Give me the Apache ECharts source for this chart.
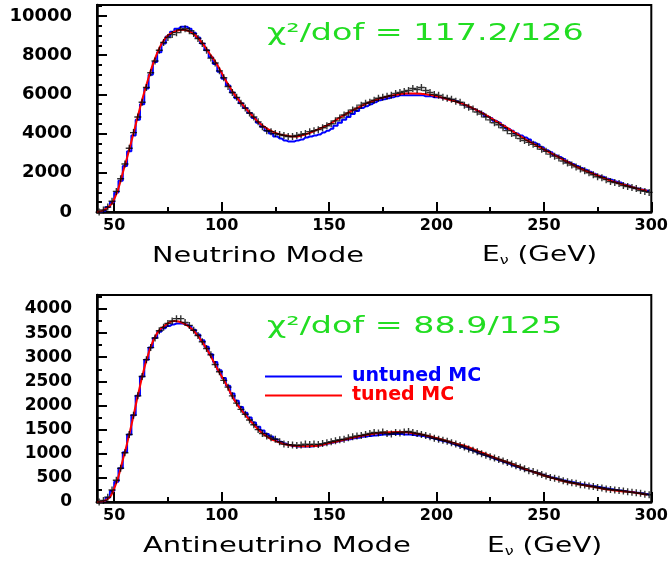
<!DOCTYPE html>
<html>
<head>
<meta charset="utf-8">
<script src="https://cdn.jsdelivr.net/npm/echarts@6/dist/echarts.min.js"></script>
<style>
  html, body { margin: 0; padding: 0; background: #fff; }
  #main { width: 671px; height: 569px; }
</style>
</head>
<body>
<div id="main"></div>
<script>
// 2 GeV bin centres for data points and untuned MC histogram
var binCentre = [43, 45, 47, 49, 51, 53, 55, 57, 59, 61,
  63, 65, 67, 69, 71, 73, 75, 77, 79, 81,
  83, 85, 87, 89, 91, 93, 95, 97, 99, 101,
  103, 105, 107, 109, 111, 113, 115, 117, 119, 121,
  123, 125, 127, 129, 131, 133, 135, 137, 139, 141,
  143, 145, 147, 149, 151, 153, 155, 157, 159, 161,
  163, 165, 167, 169, 171, 173, 175, 177, 179, 181,
  183, 185, 187, 189, 191, 193, 195, 197, 199, 201,
  203, 205, 207, 209, 211, 213, 215, 217, 219, 221,
  223, 225, 227, 229, 231, 233, 235, 237, 239, 241,
  243, 245, 247, 249, 251, 253, 255, 257, 259, 261,
  263, 265, 267, 269, 271, 273, 275, 277, 279, 281,
  283, 285, 287, 289, 291, 293, 295, 297, 299];

// nodes of the tuned MC curve
var curveE = [42, 46, 50, 54, 58, 62, 66, 70, 74, 78, 82, 86, 90, 94, 98, 102, 106, 110, 114, 118,
  122, 126, 130, 134, 138, 142, 146, 150, 154, 158, 162, 166, 170, 174, 178, 182, 186, 190, 194, 198,
  202, 206, 210, 214, 218, 222, 226, 230, 234, 238, 242, 246, 250, 254, 258, 262, 266, 270, 274, 278,
  282, 286, 290, 294, 298];

// neutrino mode
var nuData = [0, 100, 250, 550, 1050, 1700, 2450, 3250, 4050, 4850,
  5600, 6350, 7100, 7700, 8250, 8650, 8900, 9050, 9150, 9300,
  9350, 9250, 9100, 8850, 8600, 8250, 7850, 7600, 7200, 6850,
  6400, 6100, 5850, 5550, 5300, 5050, 4850, 4600, 4350, 4150,
  4100, 4000, 3950, 3900, 3850, 3850, 3900, 3950, 4000, 4100,
  4150, 4200, 4300, 4400, 4500, 4650, 4800, 4950, 5050, 5200,
  5300, 5450, 5550, 5600, 5700, 5800, 5850, 5900, 5950, 6050,
  6100, 6150, 6200, 6300, 6250, 6350, 6200, 6100, 6000, 5950,
  5850, 5800, 5750, 5650, 5600, 5450, 5350, 5250, 5100, 5000,
  4850, 4700, 4550, 4450, 4300, 4150, 4000, 3900, 3750, 3650,
  3550, 3450, 3350, 3200, 3100, 2950, 2850, 2750, 2600, 2500,
  2400, 2300, 2200, 2100, 2000, 1900, 1800, 1750, 1650, 1550,
  1500, 1450, 1350, 1300, 1250, 1200, 1100, 1050, 1000];
var nuUntuned = [0, 60, 250, 500, 1000, 1600, 2350, 3100, 3900, 4700,
  5500, 6300, 7000, 7650, 8150, 8600, 8950, 9200, 9350, 9450,
  9450, 9350, 9150, 8900, 8600, 8250, 7900, 7550, 7150, 6800,
  6450, 6100, 5800, 5550, 5300, 5050, 4800, 4550, 4350, 4150,
  4000, 3850, 3750, 3650, 3600, 3600, 3650, 3700, 3800, 3850,
  3900, 3950, 4050, 4150, 4250, 4400, 4550, 4700, 4850, 5000,
  5150, 5300, 5400, 5500, 5600, 5700, 5750, 5800, 5850, 5900,
  5950, 5950, 5950, 5950, 5950, 5950, 5900, 5900, 5850, 5850,
  5800, 5750, 5700, 5650, 5550, 5450, 5350, 5250, 5150, 5050,
  4900, 4800, 4650, 4550, 4400, 4250, 4150, 4000, 3900, 3800,
  3700, 3550, 3450, 3300, 3150, 3050, 2900, 2800, 2700, 2550,
  2450, 2350, 2250, 2150, 2050, 1950, 1850, 1800, 1700, 1650,
  1550, 1500, 1400, 1350, 1250, 1200, 1150, 1100, 1050];
var nuTuned = [0, 150, 650, 2000, 3600, 5300, 6850, 8100, 8900, 9200, 9300, 9150, 8750, 8150, 7500, 6700, 6000, 5450, 4950, 4500,
  4200, 4000, 3900, 3850, 3930, 4080, 4270, 4470, 4750, 5000, 5250, 5460, 5650, 5800, 5920, 6000, 6040, 6050, 6020, 5960,
  5850, 5730, 5600, 5440, 5230, 5000, 4750, 4480, 4220, 3950, 3670, 3430, 3200, 2960, 2720, 2500, 2270, 2080, 1900, 1730,
  1560, 1430, 1300, 1180, 1080];

// antineutrino mode
var nubarData = [0, 30, 100, 250, 450, 700, 1020, 1400, 1800, 2200,
  2600, 2950, 3200, 3400, 3550, 3620, 3700, 3750, 3800, 3800,
  3720, 3660, 3560, 3450, 3320, 3180, 3050, 2850, 2700, 2520,
  2380, 2200, 2050, 1920, 1820, 1700, 1600, 1500, 1420, 1370,
  1330, 1300, 1250, 1200, 1190, 1180, 1170, 1180, 1200, 1190,
  1200, 1190, 1210, 1230, 1250, 1270, 1290, 1300, 1330, 1350,
  1370, 1380, 1400, 1420, 1440, 1430, 1450, 1420, 1410, 1440,
  1430, 1450, 1460, 1440, 1420, 1400, 1380, 1350, 1320, 1300,
  1280, 1260, 1230, 1200, 1170, 1140, 1100, 1070, 1040, 1000,
  970, 940, 910, 880, 850, 820, 790, 750, 720, 690,
  650, 630, 600, 570, 540, 510, 490, 470, 440, 420,
  400, 390, 360, 350, 330, 320, 300, 290, 270, 260,
  250, 240, 230, 210, 200, 190, 180, 160, 150];
var nubarUntuned = [0, 20, 90, 230, 420, 700, 1030, 1400, 1800, 2200,
  2600, 2950, 3200, 3400, 3530, 3600, 3650, 3680, 3700, 3700,
  3680, 3640, 3570, 3470, 3350, 3220, 3060, 2900, 2730, 2570,
  2410, 2250, 2100, 1970, 1850, 1750, 1650, 1560, 1480, 1410,
  1360, 1300, 1250, 1210, 1180, 1160, 1150, 1150, 1150, 1150,
  1160, 1170, 1190, 1210, 1230, 1250, 1270, 1290, 1300, 1320,
  1330, 1350, 1360, 1370, 1380, 1390, 1400, 1400, 1410, 1410,
  1410, 1400, 1400, 1390, 1380, 1370, 1350, 1330, 1310, 1280,
  1260, 1240, 1210, 1180, 1150, 1120, 1090, 1060, 1020, 990,
  960, 930, 890, 860, 830, 800, 760, 730, 700, 670,
  650, 620, 595, 565, 540, 510, 490, 465, 445, 425,
  410, 390, 370, 355, 340, 325, 310, 295, 280, 265,
  250, 240, 228, 215, 205, 190, 180, 165, 150];
var nubarTuned = [0, 35, 280, 870, 1590, 2400, 3080, 3500, 3670, 3750, 3710, 3590, 3380, 3100, 2760, 2450, 2110, 1860, 1650, 1460,
  1330, 1250, 1190, 1165, 1155, 1160, 1175, 1220, 1260, 1300, 1340, 1380, 1410, 1430, 1445, 1450, 1445, 1420, 1390, 1350,
  1300, 1250, 1200, 1150, 1080, 1010, 940, 870, 810, 740, 670, 610, 550, 495, 445, 405, 370, 335, 305, 270,
  245, 225, 205, 180, 150];

var majorTicks = [50, 100, 150, 200, 250, 300];
var minorTicks = [75, 125, 175, 225, 275];

function pairs(xs, vals) {
  return xs.map(function (e, i) { return [e, vals[i]]; });
}

var FONT = 'DejaVu Sans';
var plus = 'path://M4,0H6V4H10V6H6V10H4V6H0V4H4Z';
var GREEN = '#22dd22';

function xAxes(gridIndex, labelMargin) {
  return [{
    type: 'value', gridIndex: gridIndex, min: 42, max: 300,
    axisLine: { lineStyle: { color: '#000', width: 2.5 } },
    axisTick: { inside: true, length: 10, customValues: majorTicks, lineStyle: { color: '#000', width: 2 } },
    axisLabel: { customValues: majorTicks, margin: labelMargin, color: '#000', fontFamily: FONT, fontWeight: 'bold', fontSize: 16 },
    splitLine: { show: false }
  }, {
    type: 'value', gridIndex: gridIndex, min: 42, max: 300, position: 'bottom',
    axisLine: { show: false },
    axisTick: { inside: true, length: 5, customValues: minorTicks, lineStyle: { color: '#000', width: 2 } },
    axisLabel: { show: false },
    splitLine: { show: false }
  }];
}

function yAxis(gridIndex, max, interval, minorSplit, fontSize) {
  return {
    type: 'value', gridIndex: gridIndex, min: 0, max: max, interval: interval,
    axisLine: { show: true, lineStyle: { color: '#000', width: 2.5 } },
    axisTick: { show: true, inside: true, length: 10, lineStyle: { color: '#000', width: 2 } },
    minorTick: { show: true, splitNumber: minorSplit, length: 5, lineStyle: { color: '#000', width: 2 } },
    axisLabel: {
      margin: 25, color: '#000', fontFamily: FONT, fontWeight: 'bold', fontSize: fontSize,
      showMaxLabel: false,
      formatter: function (v) { return String(v); }
    },
    splitLine: { show: false }
  };
}

function panelSeries(xIdx, yIdx, data, untuned, tuned) {
  return [{
    name: 'untuned MC', type: 'line', xAxisIndex: xIdx, yAxisIndex: yIdx, step: 'middle',
    data: pairs(binCentre, untuned), showSymbol: false, lineStyle: { color: '#0000ff', width: 2 }, itemStyle: { color: '#0000ff' },
    silent: true, z: 2
  }, {
    name: 'tuned MC', type: 'line', xAxisIndex: xIdx, yAxisIndex: yIdx, smooth: true,
    data: pairs(curveE, tuned), showSymbol: false, lineStyle: { color: '#ff0000', width: 2 }, itemStyle: { color: '#ff0000' },
    silent: true, z: 3
  }, {
    name: 'data', type: 'scatter', xAxisIndex: xIdx, yAxisIndex: yIdx,
    data: pairs(binCentre, data), symbol: plus, symbolSize: 7, itemStyle: { color: '#000' }, silent: true, z: 4
  }];
}

// stretched text labels (the original lettering is wide)
function label(text, x, y, size, color, sx) {
  return {
    type: 'text', x: x, y: y, scaleX: sx, silent: true, z: 10,
    style: {
      text: text, fill: color, font: size + 'px "' + FONT + '"', verticalAlign: 'middle',
      rich: { s: { fontSize: 12, fontFamily: FONT, fill: color, verticalAlign: 'bottom' } }
    }
  };
}

var chart = echarts.init(document.getElementById('main'));
chart.setOption({
  animation: false,
  backgroundColor: '#fff',
  grid: [
    { left: 97, top: 5, width: 558, height: 207, show: true, borderColor: '#000', borderWidth: 2 },
    { left: 97, top: 295, width: 558, height: 207, show: true, borderColor: '#000', borderWidth: 2 }
  ],
  xAxis: xAxes(0, 6).concat(xAxes(1, 6)),
  yAxis: [yAxis(0, 10560, 2000, 4, 18), yAxis(1, 4290, 500, 2, 17)],
  legend: {
    data: [
      { name: 'untuned MC', textStyle: { color: '#0000ff' } },
      { name: 'tuned MC', textStyle: { color: '#ff0000' } }
    ],
    orient: 'vertical', left: 260, top: 362, icon: 'rect', itemWidth: 77, itemHeight: 2, itemGap: 0,
    selectedMode: false,
    textStyle: { fontFamily: FONT, fontWeight: 'bold', fontSize: 19, padding: [0, 0, 0, 5] }
  },
  graphic: [
    label('χ²/dof = 117.2/126', 267, 34, 23, GREEN, 1.45),
    label('χ²/dof = 88.9/125', 267, 327, 23, GREEN, 1.45),
    label('Neutrino Mode', 152, 257, 21, '#000', 1.37),
    label('Antineutrino Mode', 143, 547, 21, '#000', 1.38),
    label('E{s|ν} (GeV)', 482, 256, 21, '#000', 1.33),
    label('E{s|ν} (GeV)', 487, 547, 21, '#000', 1.33)
  ],
  series: panelSeries(0, 0, nuData, nuUntuned, nuTuned)
    .concat(panelSeries(2, 1, nubarData, nubarUntuned, nubarTuned))
});
</script>
</body>
</html>
